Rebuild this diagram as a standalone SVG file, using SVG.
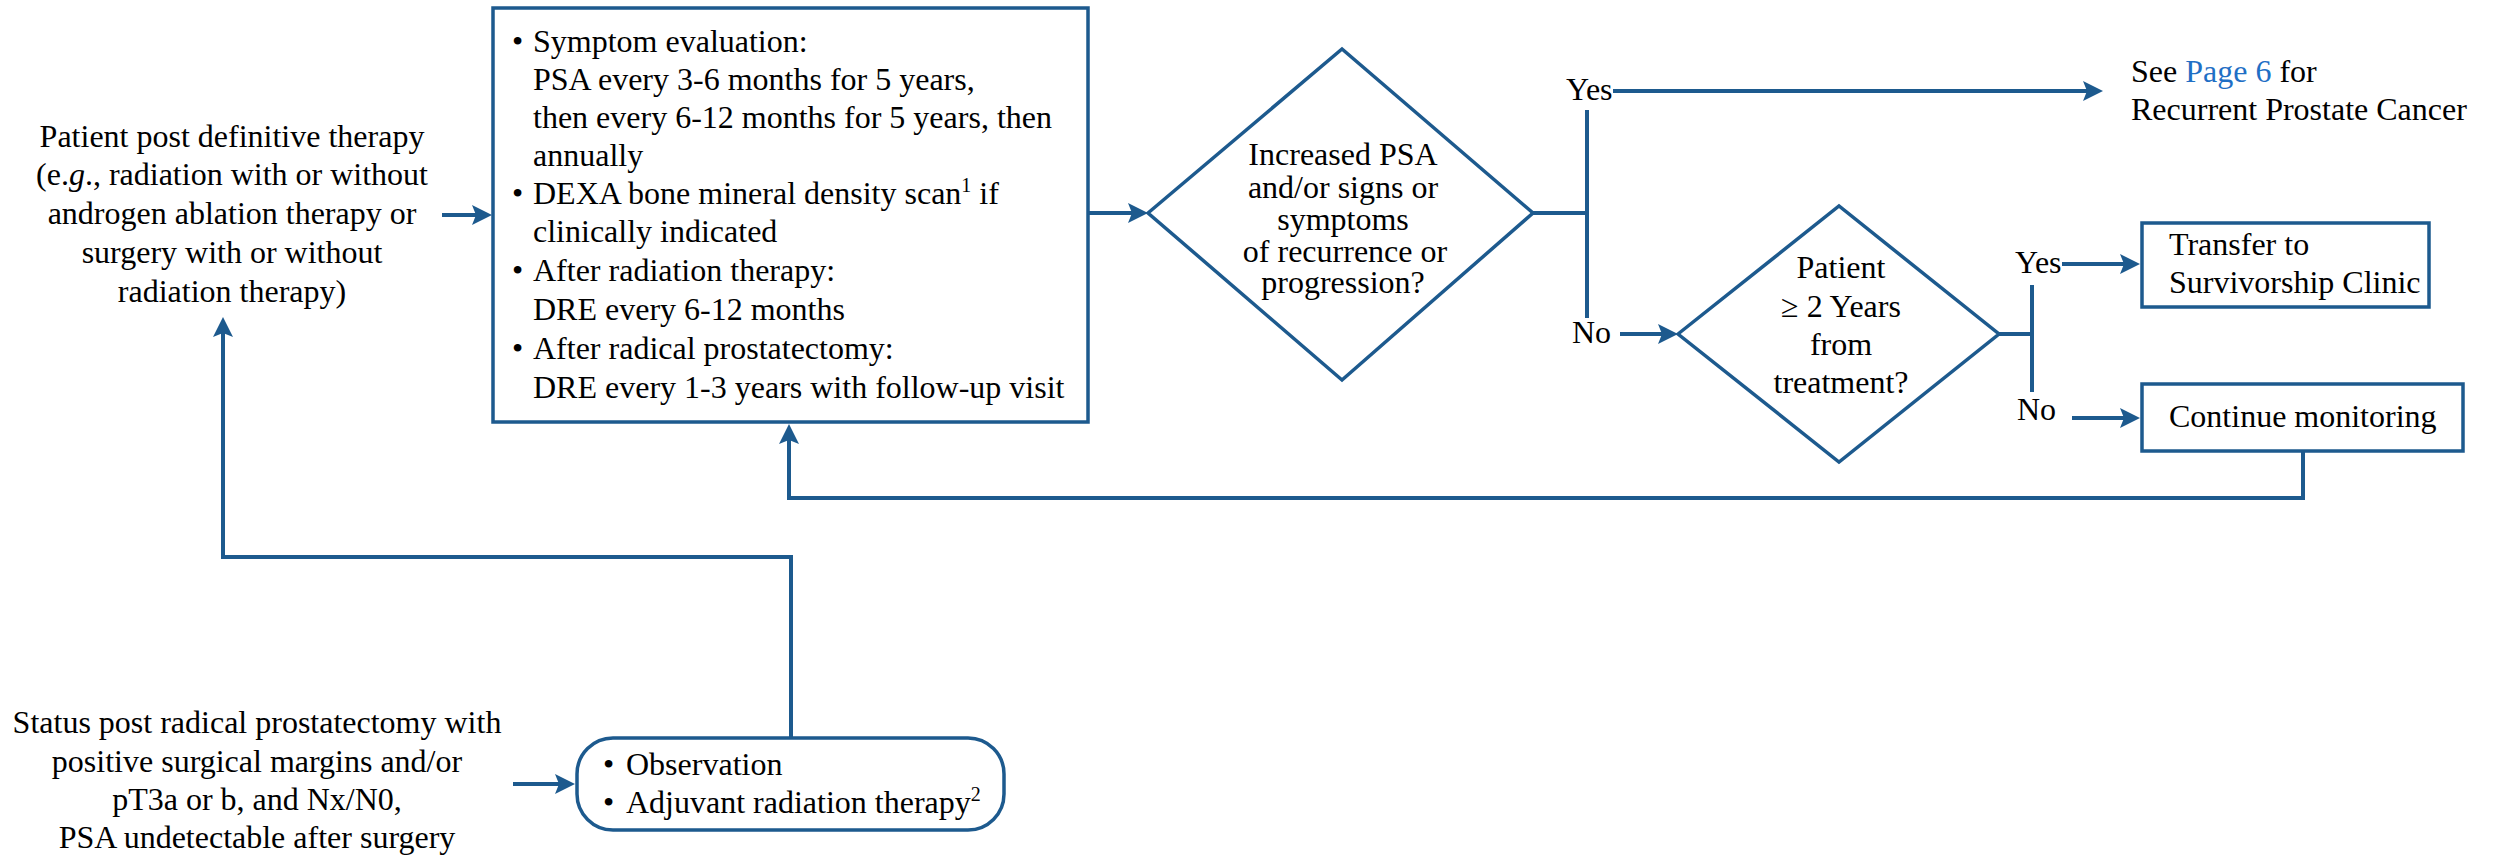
<svg xmlns="http://www.w3.org/2000/svg" width="2497" height="860" viewBox="0 0 2497 860">
  <style>
    text { font-family: "Liberation Serif", "Times New Roman", serif; font-size: 32px; fill: #000; }
    .c { text-anchor: middle; }
    .sup { font-size: 20px; }
    .link { fill: #1f6fc5; }
    .shape { fill: #fff; stroke: #1d5a8e; stroke-width: 3.5; }
    .conn { fill: none; stroke: #1d5a8e; stroke-width: 4; }
  </style>
  <defs>
    <marker id="arrow" viewBox="0 0 20 20" markerWidth="20" markerHeight="20" refX="12" refY="10" orient="auto" markerUnits="userSpaceOnUse">
      <path d="M0,0 L20,10 L0,20 L4,10 z" fill="#1d5a8e"/>
    </marker>
  </defs>
  <rect width="2497" height="860" fill="#fff"/>

  <g id="connectors">
    <line class="conn" x1="442" y1="215" x2="484" y2="215" marker-end="url(#arrow)"/>
    <line class="conn" x1="1088" y1="213" x2="1140" y2="213" marker-end="url(#arrow)"/>
    <line class="conn" x1="1533" y1="213" x2="1587" y2="213"/>
    <line class="conn" x1="1587" y1="110" x2="1587" y2="318"/>
    <line class="conn" x1="1613" y1="91" x2="2095" y2="91" marker-end="url(#arrow)"/>
    <line class="conn" x1="1620" y1="334" x2="1670" y2="334" marker-end="url(#arrow)"/>
    <line class="conn" x1="1999" y1="334" x2="2032" y2="334"/>
    <line class="conn" x1="2032" y1="285" x2="2032" y2="392"/>
    <line class="conn" x1="2062" y1="264" x2="2132" y2="264" marker-end="url(#arrow)"/>
    <line class="conn" x1="2072" y1="418" x2="2132" y2="418" marker-end="url(#arrow)"/>
    <polyline class="conn" points="2303,451 2303,498 789,498 789,432" marker-end="url(#arrow)"/>
    <line class="conn" x1="513" y1="784" x2="567" y2="784" marker-end="url(#arrow)"/>
    <polyline class="conn" points="791,738 791,557 223,557 223,325" marker-end="url(#arrow)"/>
  </g>

  <g id="patient-post-therapy">
    <text class="c" x="232" y="147">Patient post definitive therapy</text>
    <text class="c" x="232" y="185">(e.<tspan font-style="italic">g</tspan>., radiation with or without</text>
    <text class="c" x="232" y="224">androgen ablation therapy or</text>
    <text class="c" x="232" y="263">surgery with or without</text>
    <text class="c" x="232" y="302">radiation therapy)</text>
  </g>

  <g id="surveillance-box">
    <rect class="shape" x="493" y="8" width="595" height="414"/>
    <text x="512" y="52">•</text><text x="533" y="52">Symptom evaluation:</text>
    <text x="533" y="90">PSA every 3-6 months for 5 years,</text>
    <text x="533" y="128">then every 6-12 months for 5 years, then</text>
    <text x="533" y="166">annually</text>
    <text x="512" y="204">•</text><text x="533" y="204">DEXA bone mineral density scan<tspan class="sup" dy="-12">1</tspan><tspan dy="12"> if</tspan></text>
    <text x="533" y="242">clinically indicated</text>
    <text x="512" y="281">•</text><text x="533" y="281">After radiation therapy:</text>
    <text x="533" y="320">DRE every 6-12 months</text>
    <text x="512" y="359">•</text><text x="533" y="359">After radical prostatectomy:</text>
    <text x="533" y="398">DRE every 1-3 years with follow-up visit</text>
  </g>

  <g id="decision-psa">
    <polygon class="shape" points="1148,213 1342,49 1533,213 1342,380"/>
    <text class="c" x="1343" y="165">Increased PSA</text>
    <text class="c" x="1343" y="198">and/or signs or</text>
    <text class="c" x="1343" y="230">symptoms</text>
    <text class="c" x="1345" y="262">of recurrence or</text>
    <text class="c" x="1343" y="293">progression?</text>
  </g>

  <g id="labels-decision-psa">
    <text x="1566" y="100">Yes</text>
    <text x="1572" y="343">No</text>
  </g>

  <g id="recurrent-cancer">
    <text x="2131" y="82">See <tspan class="link">Page 6</tspan> for</text>
    <text x="2131" y="120">Recurrent Prostate Cancer</text>
  </g>

  <g id="decision-years">
    <polygon class="shape" points="1678,334 1839,206 1999,334 1839,462"/>
    <text class="c" x="1841" y="278">Patient</text>
    <text class="c" x="1841" y="317">≥ 2 Years</text>
    <text class="c" x="1841" y="355">from</text>
    <text class="c" x="1841" y="393">treatment?</text>
  </g>

  <g id="labels-decision-years">
    <text x="2015" y="273">Yes</text>
    <text x="2017" y="420">No</text>
  </g>

  <g id="survivorship-clinic">
    <rect class="shape" x="2142" y="223" width="287" height="84"/>
    <text x="2169" y="255">Transfer to</text>
    <text x="2169" y="293">Survivorship Clinic</text>
  </g>

  <g id="continue-monitoring">
    <rect class="shape" x="2142" y="384" width="321" height="67"/>
    <text x="2169" y="427">Continue monitoring</text>
  </g>

  <g id="status-post-prostatectomy">
    <text class="c" x="257" y="733">Status post radical prostatectomy with</text>
    <text class="c" x="257" y="772">positive surgical margins and/or</text>
    <text class="c" x="257" y="810">pT3a or b, and Nx/N0,</text>
    <text class="c" x="257" y="848">PSA undetectable after surgery</text>
  </g>

  <g id="observation-adjuvant">
    <rect class="shape" x="577" y="738" width="427" height="92" rx="36" ry="36"/>
    <text x="603" y="775">•</text><text x="626" y="775">Observation</text>
    <text x="603" y="813">•</text><text x="626" y="813">Adjuvant radiation therapy<tspan class="sup" dy="-12">2</tspan></text>
  </g>
</svg>
